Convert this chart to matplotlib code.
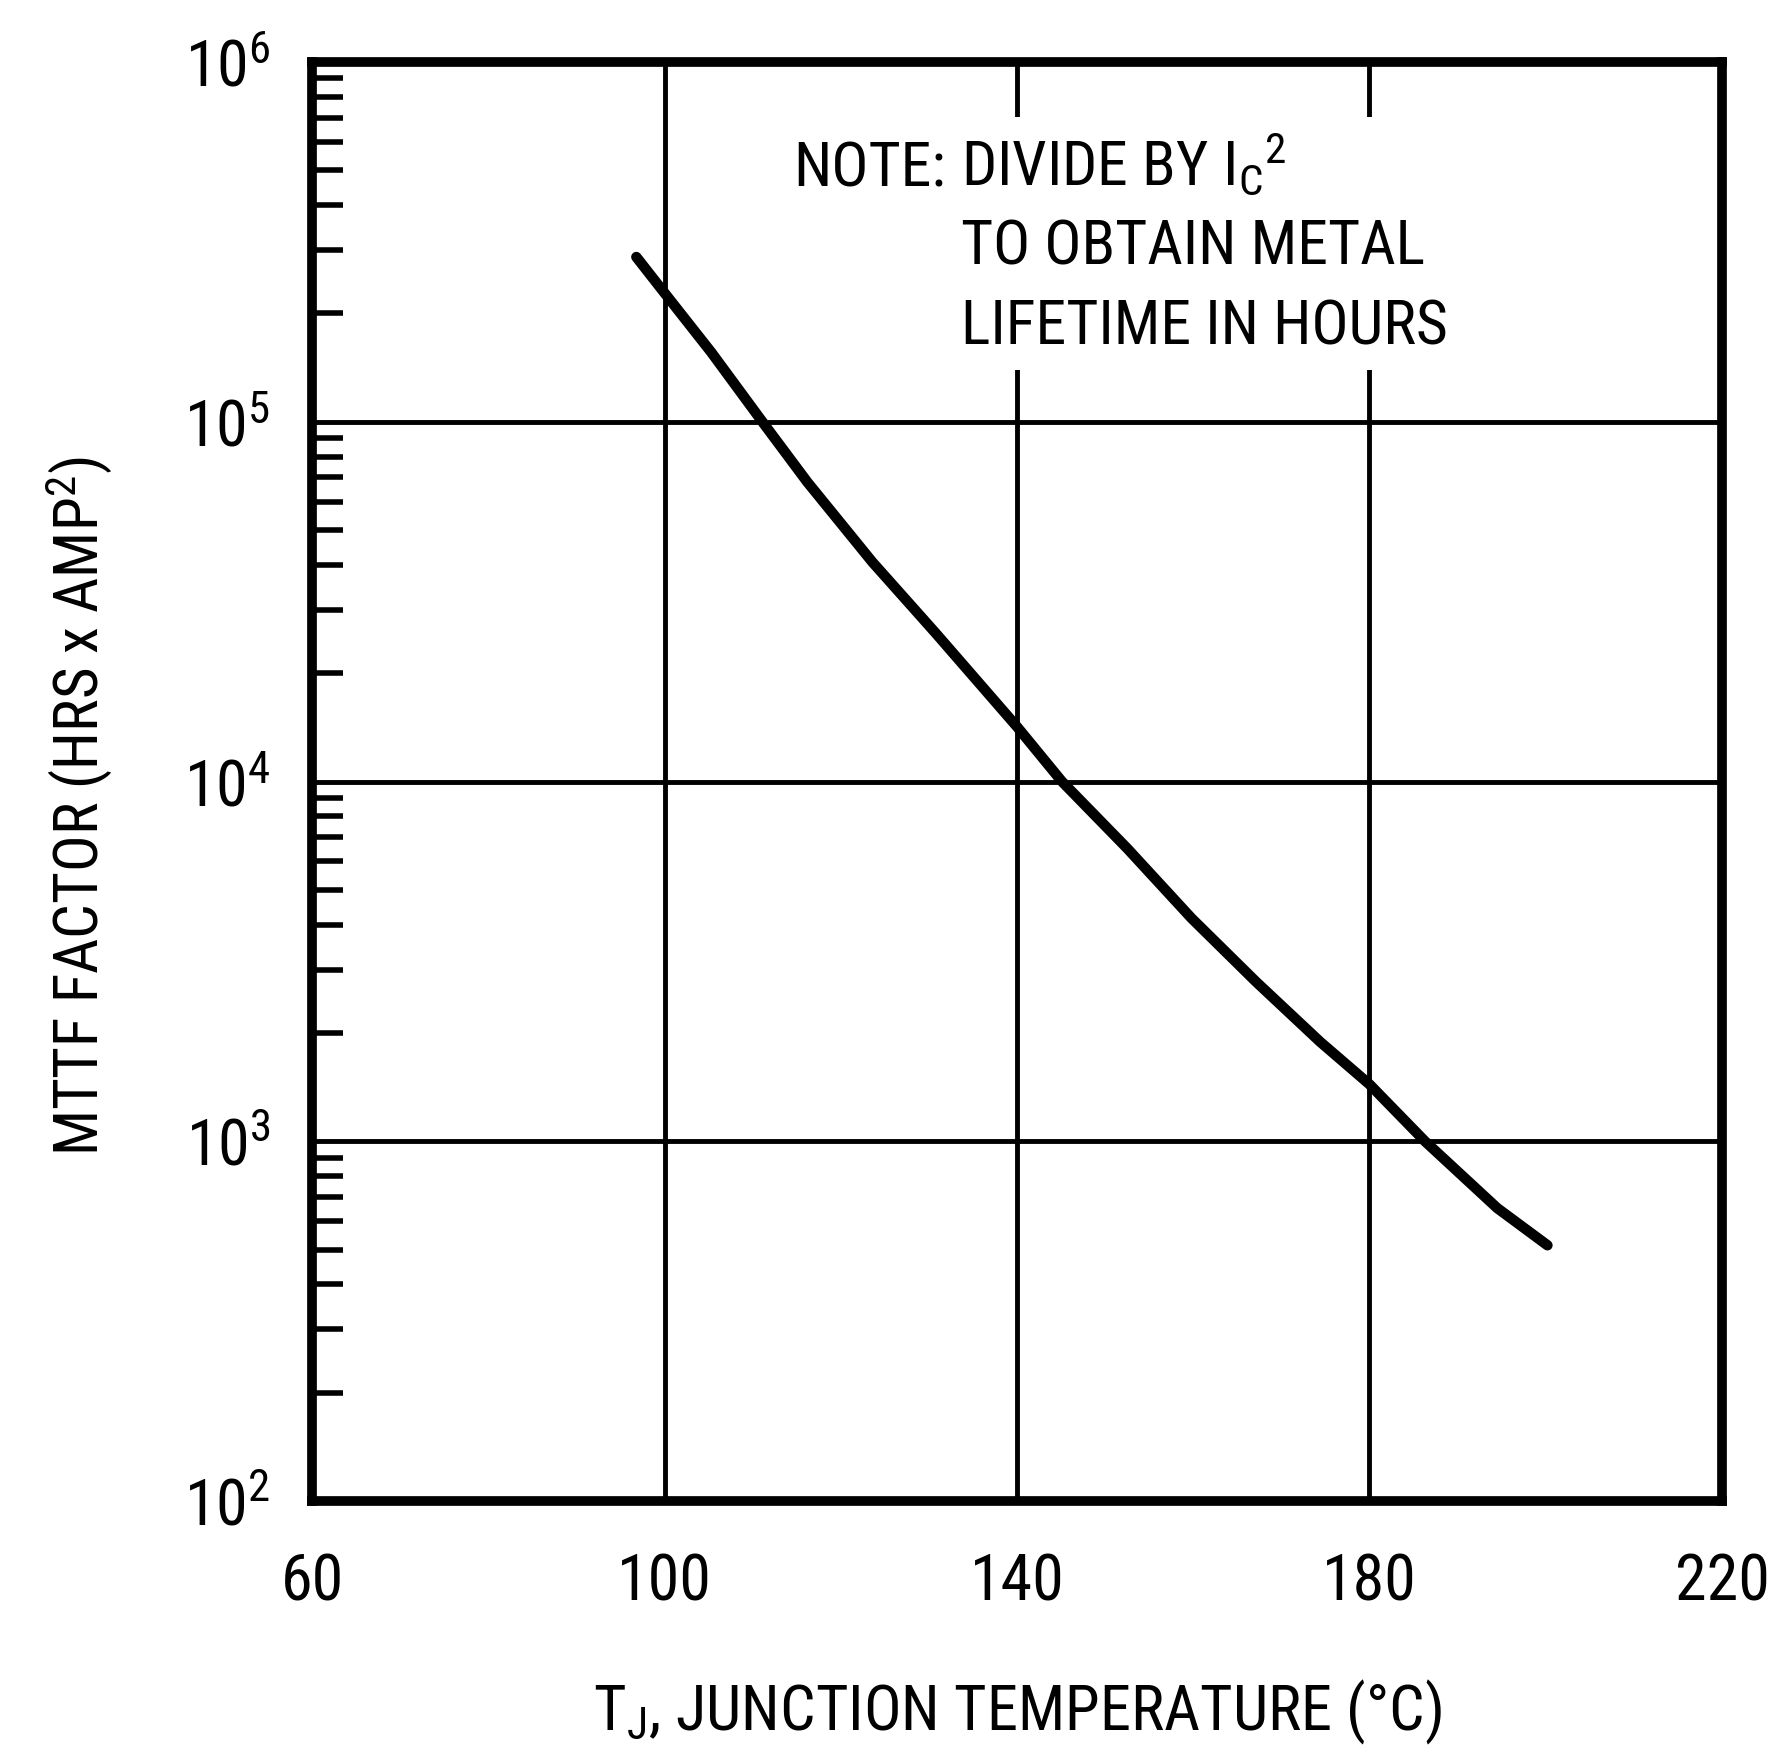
import matplotlib
matplotlib.use("Agg")
import matplotlib.pyplot as plt
from matplotlib.ticker import NullFormatter

# condensed face like the scanned datasheet, first one installed is used
plt.rcParams['font.sans-serif'] = ['Roboto Condensed', 'Archivo Narrow', 'PT Sans Narrow',
                                   'Pragati Narrow', 'Liberation Sans']
plt.rcParams['font.family'] = 'sans-serif'
plt.rcParams['mathtext.fontset'] = 'custom'
plt.rcParams['mathtext.rm'] = 'sans'
plt.rcParams['mathtext.it'] = 'sans'

# curve (junction temperature in C, MTTF factor)
temp = [96.8, 100, 105.3, 111.1, 116.2, 123.6, 130.8, 140, 145.1, 152.5,
        159.8, 167.1, 174.4, 180, 186.3, 194.5, 200.2]
mttf = [2.87e5, 2.28e5, 1.56e5, 1.0e5, 6.8e4, 4.07e4, 2.58e4, 1.42e4, 1.0e4, 6.52e3,
        4.17e3, 2.78e3, 1.89e3, 1.44e3, 1.0e3, 6.52e2, 5.14e2]

x_ticks = [60, 100, 140, 180, 220]
y_ticks = [1e2, 1e3, 1e4, 1e5, 1e6]
y_labels = ['$10^2$', '$10^3$', '$10^4$', '$10^5$', '$10^6$']

fig = plt.figure(figsize=(17.67, 17.55), dpi=100)
ax = fig.add_axes([0.1766, 0.1447, 0.7979, 0.82])

ax.plot(temp, mttf, color='black', lw=7.5, solid_capstyle='round', solid_joinstyle='round', zorder=4)
ax.set_yscale('log')
ax.set_xlim(60, 220)
ax.set_ylim(1e2, 1e6)

ax.set_xticks(x_ticks)
ax.set_xticklabels([str(t) for t in x_ticks])
ax.set_yticks(y_ticks)
ax.set_yticklabels(y_labels)
ax.grid(True, which='major', color='black', lw=3.5)
ax.tick_params(axis='both', which='major', length=0, labelsize=46)
ax.tick_params(axis='x', pad=36)
ax.tick_params(axis='y', pad=30)
ax.tick_params(axis='y', which='minor', direction='in', length=22, width=4, left=True, right=False)
ax.tick_params(axis='x', which='minor', length=0)
ax.yaxis.set_minor_formatter(NullFormatter())
for s in ax.spines.values():
    s.set_linewidth(7)

ax.set_xlabel(r'T$_\mathrm{J}$, JUNCTION TEMPERATURE (°C)', fontsize=45, labelpad=46)
ax.set_ylabel(r'MTTF FACTOR (HRS x AMP$^2$)', fontsize=44)
ax.yaxis.set_label_coords(-0.14, 0.483)

ax.text(133.6, 10**5.81, 'DIVIDE BY I$_\\mathrm{C}$$^2$\nTO OBTAIN METAL\nLIFETIME IN HOURS',
        fontsize=44.5, va='top', ha='left', linespacing=1.47, zorder=5,
        bbox=dict(facecolor='white', edgecolor='none', pad=10))
ax.text(114.6, 10**5.70, 'NOTE:', fontsize=44.5, va='center', ha='left', zorder=6)

fig.savefig('out.png', dpi=100)
